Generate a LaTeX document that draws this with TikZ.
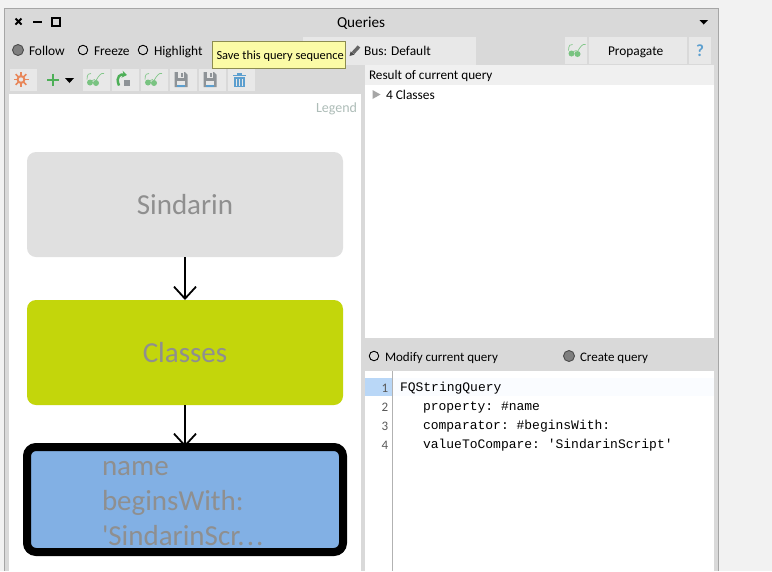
\documentclass[tikz,border=0pt]{standalone}
\usepackage{fontspec}
\setmainfont{Carlito}
\setmonofont{Liberation Mono}
\newfontfamily\plainquote{Carlito}
\usetikzlibrary{arrows.meta}
\definecolor{pagegray}{HTML}{F2F2F2}
\definecolor{windowgray}{HTML}{D9D9D9}
\definecolor{framegray}{HTML}{A6A6A6}
\definecolor{buttongray}{HTML}{E8E8E8}
\definecolor{radiogray}{HTML}{7F7F7F}
\definecolor{headgray}{HTML}{F0F0F0}
\definecolor{tipyellow}{HTML}{FBFBA6}
\definecolor{tipline}{HTML}{8C8C50}
\definecolor{sindaringray}{HTML}{E0E0E0}
\definecolor{classesgreen}{HTML}{C3D60B}
\definecolor{queryblue}{HTML}{82B0E4}
\definecolor{labelgray}{HTML}{8F8F8F}
\definecolor{legendgray}{HTML}{AEBDB8}
\definecolor{linehigh}{HTML}{B9D7F7}
\definecolor{linefaint}{HTML}{FAFCFF}
\definecolor{icongreen}{HTML}{4DAF57}
\definecolor{iconblue}{HTML}{5C9FCF}
\definecolor{icongray}{HTML}{8E9397}
\definecolor{iconorange}{HTML}{E8875A}
\tikzset{
    txt/.style={inner sep=0pt, outer sep=0pt, anchor=base west, font=\fontsize{13.4}{13.4}\selectfont},
    smalltxt/.style={txt, font=\fontsize{13}{13}\selectfont},
    bigtxt/.style={txt, text=labelgray, font=\fontsize{29}{29}\selectfont},
    codetxt/.style={txt, font=\ttfamily\fontsize{13}{13}\selectfont},
    numtxt/.style={inner sep=0pt, anchor=base east, text=black!65, font=\fontsize{13}{13}\selectfont},
    querybox/.style={rounded corners=9, minimum width=316, minimum height=105, inner sep=0pt, outer sep=0pt, text=labelgray, font=\fontsize{29}{34}\selectfont},
    radio/.style={circle, draw=black, line width=0.9, minimum size=9.5, inner sep=0pt},
    radioon/.style={radio, fill=radiogray, draw=black!70, minimum size=11},
    btn/.style={fill=buttongray, draw=none},
    link/.style={line width=1.8, -{Straight Barb[length=12,width=22,line width=1.8]}},
    glass/.pic={
        \draw[icongreen!70, line width=0.7] (-8,0) .. controls (-8,-5) and (-6,-7) .. (-4,-6);
        \draw[icongreen!70, line width=0.7] (1,1) .. controls (4,-4) and (6,-7) .. (9,-6);
        \draw[icongreen!70, line width=0.7] (-3,1) -- (0,0);
        \fill[icongreen!75] (-5,3) circle (3);
        \fill[icongreen!75] (1,3.5) circle (3);
    },
    disk/.pic={
        \fill[icongray] (-6.5,-7.5) -- (4,-7.5) -- (6.5,-5) -- (6.5,7.5) -- (-6.5,7.5) -- cycle;
        \fill[buttongray] (-3,-7.5) rectangle (3,-2);
        \fill[icongray] (0,-6.5) rectangle (2,-3);
        \fill[buttongray] (-4,1) rectangle (4,7.5);
        \fill[iconblue] (-4,5) rectangle (4,7.5);
    },
}
\begin{document}
\begin{tikzpicture}[x=1pt, y=-1pt]
    \useasboundingbox (0,0) rectangle (772,571);
    \fill[pagegray] (0,0) rectangle (772,571);
    % window
    \fill[windowgray] (4,8.5) rectangle (718.5,571);
    \draw[framegray, line width=1] (4.5,571) -- (4.5,8.5) -- (718.5,8.5) -- (718.5,571);
    % title bar
    \draw[line width=2] (15.5,18.5) -- (21.5,24.5) (21.5,18.5) -- (15.5,24.5);
    \draw[line width=2] (33,21.5) -- (41.5,21.5);
    \draw[line width=2] (52,18) rectangle (60,26);
    \node[txt] (title) at (337,27) {\fontsize{15.2}{15.2}\selectfont Queries};
    \fill (699.5,20) -- (708,20) -- (703.7,24.5) -- cycle;
    % radio row
    \node[radioon] (follow) at (18,50) {};
    \node[txt] (followtxt) at (29,55) {Follow};
    \node[radio] (freeze) at (83,50) {};
    \node[txt] (freezetxt) at (94,55) {Freeze};
    \node[radio] (highlight) at (143,50) {};
    \node[txt] (highlighttxt) at (154,55) {Highlight};
    % top buttons
    \fill[btn] (303,37) rectangle (476,65);
    \fill[btn] (564.5,37) rectangle (587,64);
    \fill[btn] (589,37) rectangle (687,64);
    \fill[btn] (689,37) rectangle (711,64);
    \draw[black!60, line width=3.4] (353,53) -- (359,46.5);
    \fill[black!70] (349.5,56) -- (350.7,51.4) -- (354.5,54.6) -- cycle;
    \node[txt] (bus) at (364,55) {Bus: Default};
    \pic at (576.5,50.5) {glass};
    \node[txt] (propagate) at (608,55) {Propagate};
    \node[txt, text=iconblue] (help) at (696,56) {\fontsize{17}{17}\selectfont\bfseries ?};
    % left toolbar
    \foreach \xa/\xb in {10/37, 83/110, 112/139, 141/168, 170/197, 199/226, 228/255} {
        \fill[btn] (\xa,69) rectangle (\xb,90.5);
    }
    \foreach \ang in {0,45,...,315} {
        \draw[iconorange, line width=1.6] (21,79.5) -- +(\ang:7.5);
    }
    \fill[iconorange] (21,79.5) circle (4.5);
    \fill[buttongray] (21,79.5) circle (2.2);
    \draw[icongreen, line width=2] (47,79.5) -- (59,79.5) (53,73.5) -- (53,85.5);
    \fill (65,78) -- (74,78) -- (69.5,83) -- cycle;
    \pic at (95,79.5) {glass};
    \draw[icongreen, line width=2.4, -{Stealth[length=5,width=7]}] (119,85.5) .. controls (115,76) and (121,74) .. (127,75);
    \fill[icongray] (124,80) rectangle (130,86);
    \pic at (153,79.5) {glass};
    \pic at (181,79.5) {disk};
    \pic at (210,79.5) {disk};
    \fill[iconblue] (233,74.5) rectangle (245.5,76);
    \fill[iconblue] (236.5,72.5) rectangle (242,74.5);
    \fill[iconblue] (233.5,77) rectangle (245,87);
    \foreach \x in {236.5,239.5,242.5} {
        \draw[buttongray, line width=0.8] (\x,79) -- (\x,85.5);
    }
    % panels
    \fill[white] (9,94) rectangle (361,571);
    \fill[white] (365,85) rectangle (714,338);
    \fill[headgray] (365,65) rectangle (714,85);
    \fill[white] (365,371) rectangle (714,571);
    % tooltip
    \filldraw[fill=tipyellow, draw=tipline, line width=0.7] (212.5,41.5) rectangle (345.5,68.5);
    \node[txt] (tip) at (216.5,59) {\fontsize{12.4}{12.4}\selectfont Save this query sequence};
    % results
    \node[smalltxt] (result) at (369,79) {\fontsize{13.2}{13.2}\selectfont Result of current query};
    \fill[black!35] (372.5,90) -- (380.5,94.5) -- (372.5,99) -- cycle;
    \node[txt] (classes) at (386,99) {4 Classes};
    % query mode
    \node[radio] (modify) at (374,356) {};
    \node[smalltxt] (modifytxt) at (385,361) {Modify current query};
    \node[radioon] (create) at (569,356) {};
    \node[smalltxt] (createtxt) at (580,361) {Create query};
    % code
    \fill[linefaint] (392,378) rectangle (714,396);
    \fill[linehigh] (365,378) rectangle (392,396);
    \draw[black!30, line width=1] (392.5,371) -- (392.5,571);
    \foreach \n/\y in {1/392, 2/411, 3/430, 4/449} {
        \node[numtxt] (num\n) at (388.5,\y) {\n};
    }
    \node[codetxt] (codea) at (400,391.5) {FQStringQuery};
    \node[codetxt] (codeb) at (423,410.5) {property: \#name};
    \node[codetxt] (codec) at (423,429.5) {comparator: \#beginsWith:};
    \node[codetxt] (coded) at (423,448.5) {valueToCompare: 'SindarinScript'};
    % query chain
    \node[txt, text=legendgray, font=\fontsize{14}{14}\selectfont] (legend) at (316,112) {Legend};
    \node[querybox, fill=sindaringray] (sindarin) at (185,204.5) {Sindarin};
    \node[querybox, fill=classesgreen] (classbox) at (185,352.5) {Classes};
    \node[querybox, fill=queryblue, draw=black, line width=8] (namebox) at (185,499.5) {};
    \node[bigtxt] (namea) at (102,475) {name};
    \node[bigtxt] (nameb) at (102,510) {beginsWith:};
    \node[bigtxt] (namec) at (102,545) {\plainquote 'SindarinScr.\kern2pt.\kern2pt.};
    \draw[link] (sindarin) -- (classbox);
    \draw[link] (classbox) -- (namebox);
\end{tikzpicture}
\end{document}
